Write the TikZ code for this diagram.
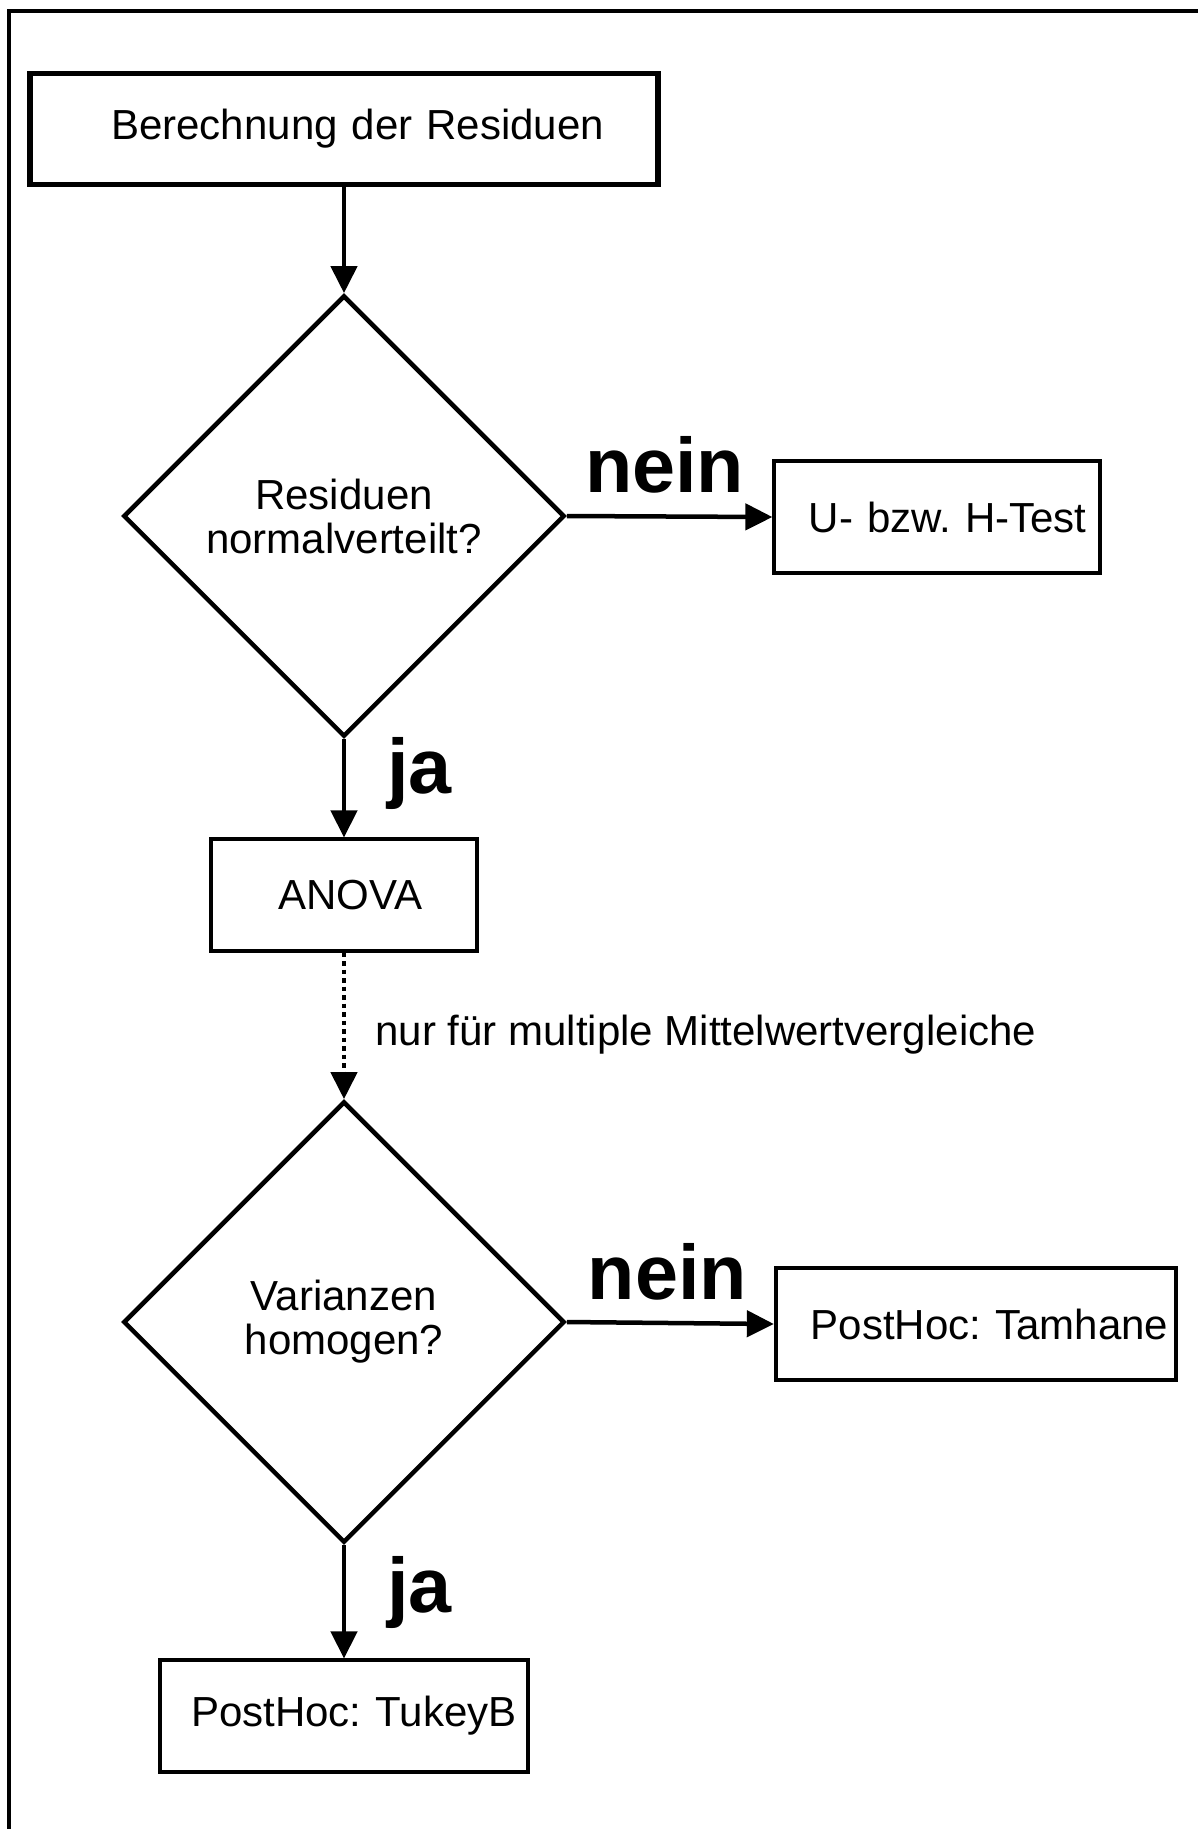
\documentclass[tikz,border=0pt]{standalone}
\usepackage{fontspec}
\setmainfont{Liberation Sans}
\usetikzlibrary{arrows.meta,shapes.geometric}
\frenchspacing

\begin{document}
\begin{tikzpicture}[
    x=0.01cm, y=-0.01cm,
    >={Triangle[length=0.27cm,width=0.26cm]},
    font=\fontsize{11.95}{12.5}\selectfont,
    box/.style={draw, rectangle, line width=1.14pt, align=right,
        inner ysep=0pt, minimum height=1.11cm},
    decision/.style={draw, diamond, aspect=1, line width=1.28pt,
        align=center, inner sep=0pt, minimum width=4.41cm, minimum height=4.41cm},
    flow/.style={->, line width=1.28pt},
    answer/.style={inner sep=0pt, font=\bfseries\fontsize{22}{24}\selectfont}
]

% -----------------------
% Page and frame
% -----------------------
\useasboundingbox (0,0) rectangle (1198,1829);
\draw[line width=1pt] (9,1829) -- (9,11) -- (1198,11);

% -----------------------
% Boxes
% -----------------------
\node[box, line width=1.56pt, text width=5.20cm, inner xsep=0.54cm] (resid) at (344,129) {Berechnung der Residuen};
\node[box, text width=2.99cm, inner xsep=0.13cm] (utest) at (937,517) {U- bzw. H-Test};
\node[box, text width=1.56cm, inner xsep=0.55cm] (anova) at (344,895) {ANOVA};
\node[box, text width=3.84cm, inner xsep=0.08cm] (tamhane) at (976,1324) {PostHoc: Tamhane};
\node[box, text width=3.45cm, inner xsep=0.11cm] (tukey) at (344,1716) {PostHoc: TukeyB};

% -----------------------
% Decisions
% -----------------------
\node[decision] (normal) at (344,516) {Residuen\\normalverteilt?};
\node[decision] (homog) at (344,1322) {Varianzen\\homogen?};

% -----------------------
% Connections
% -----------------------
\draw[flow] (resid.south) -- (normal.north);
\draw[flow] (normal.east) -- node[answer, anchor=base, xshift=-0.05cm, yshift=0.24cm] {nein} (utest.west);
\draw[flow] (normal.south) -- node[answer, anchor=base west, xshift=0.41cm, yshift=-0.05cm] {ja} (anova.north);

% only for multiple comparisons
\draw[flow, dash pattern=on 0.045cm off 0.04cm] (anova.south) --
    node[inner sep=0pt, anchor=base west, xshift=0.29cm, yshift=-0.20cm] {nur für multiple Mittelwertvergleiche} (homog.north);

\draw[flow] (homog.east) -- node[answer, anchor=base, xshift=-0.03cm, yshift=0.24cm] {nein} (tamhane.west);
\draw[flow] (homog.south) -- node[answer, anchor=base west, xshift=0.41cm, yshift=-0.11cm] {ja} (tukey.north);

\end{tikzpicture}
\end{document}
